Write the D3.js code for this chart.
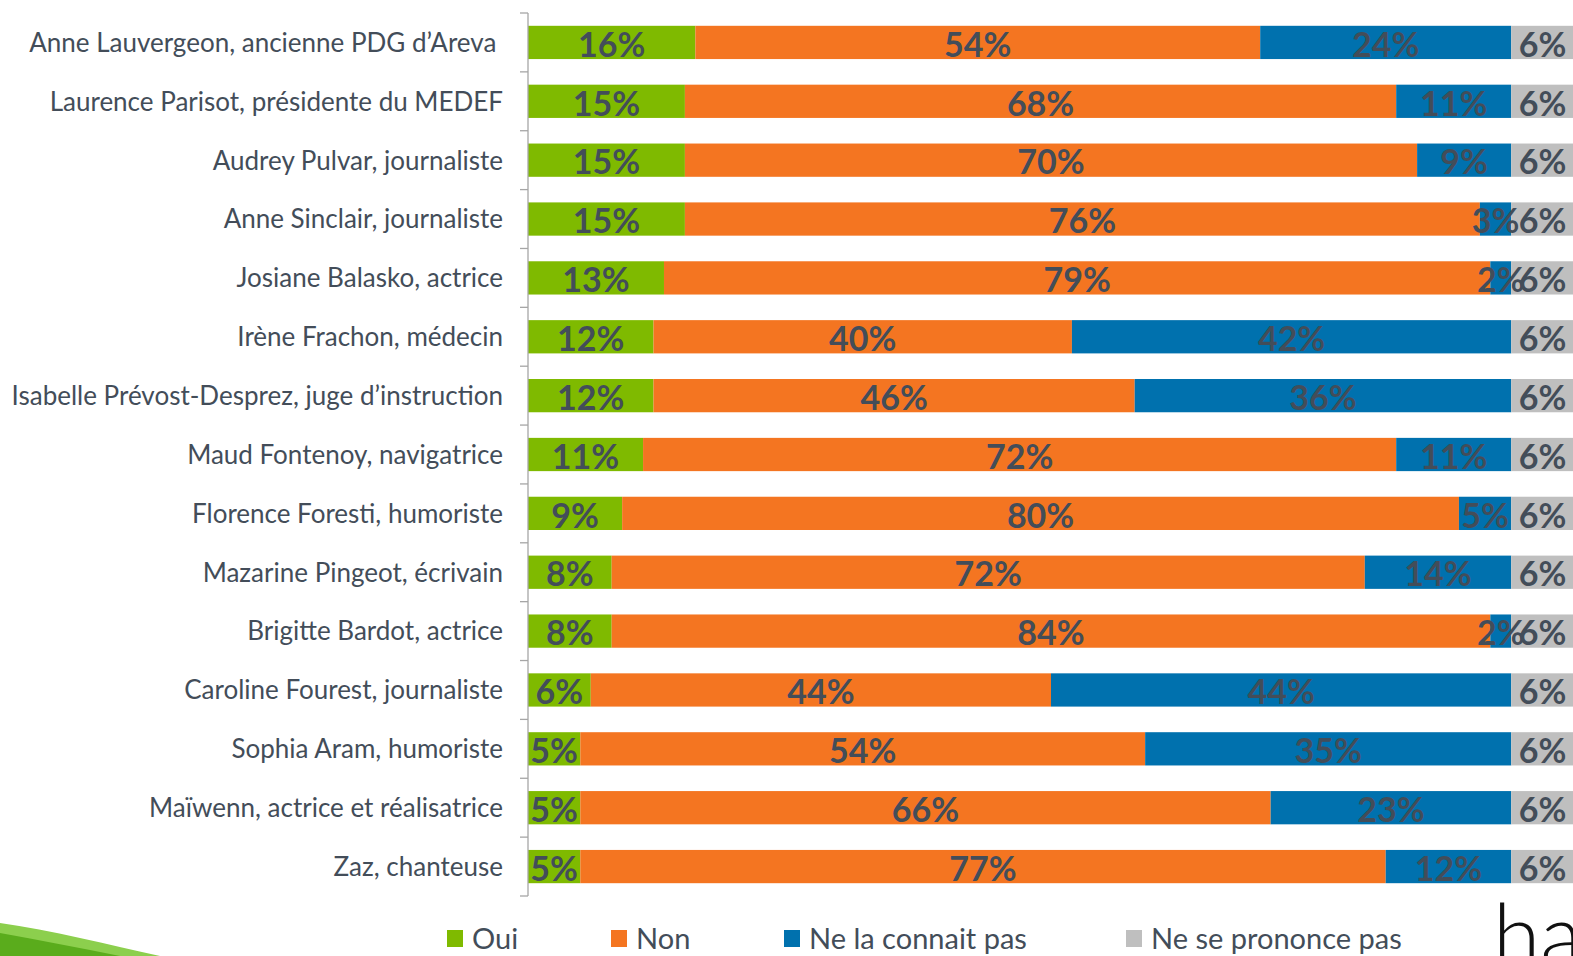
<!DOCTYPE html>
<html><head><meta charset="utf-8">
<script src="https://cdn.jsdelivr.net/npm/d3@7"></script>
<style>
html,body{margin:0;padding:0;background:#fff;}
svg{display:block;}
</style></head>
<body>
<svg id="chart" width="1573" height="956"></svg>
<script>
const categories = [
  "Anne Lauvergeon, ancienne PDG d\u2019Areva\u00a0",
  "Laurence Parisot, présidente du MEDEF",
  "Audrey Pulvar, journaliste",
  "Anne Sinclair, journaliste",
  "Josiane Balasko, actrice",
  "Irène Frachon, médecin",
  "Isabelle Prévost-Desprez, juge d\u2019instruction",
  "Maud Fontenoy, navigatrice",
  "Florence Foresti, humoriste",
  "Mazarine Pingeot, écrivain",
  "Brigitte Bardot, actrice",
  "Caroline Fourest, journaliste",
  "Sophia Aram, humoriste",
  "Maïwenn, actrice et réalisatrice",
  "Zaz, chanteuse"
];
const oui  = [16,15,15,15,13,12,12,11,9,8,8,6,5,5,5];
const non  = [54,68,70,76,79,40,46,72,80,72,84,44,54,66,77];
const nlcp = [24,11,9,3,2,42,36,11,5,14,2,44,35,23,12];
const nsp  = [6,6,6,6,6,6,6,6,6,6,6,6,6,6,6];
const seriesNames = ["Oui","Non","Ne la connait pas","Ne se prononce pas"];
const seriesValues = [oui, non, nlcp, nsp];
const colors = ["#7fba00","#f47521","#0071ae","#bfbfbf"];

const svg = d3.select("#chart");
const textColor = "#434d59";
const mLeft = 528, mRight = 1574, mTop = 13, mBottom = 896;

const x = d3.scaleLinear().domain([0,100]).range([mLeft,mRight]);
const y = d3.scaleBand().domain(categories).range([mTop,mBottom]).paddingInner(0).paddingOuter(0);
const barH = y.step()*0.565;

const rows = categories.map((c,i)=>{
  const r = {name:c};
  seriesNames.forEach((s,j)=>r[s]=seriesValues[j][i]);
  return r;
});
const stack = d3.stack().keys(seriesNames)(rows);

// decorative swoosh bottom-left
svg.append("path")
  .attr("d","M0,923 C50,930 110,945 160,956 L0,956 Z")
  .attr("fill","#8ccf4d");
svg.append("path")
  .attr("d","M0,933 C40,940 80,948 120,956 L0,956 Z")
  .attr("fill","#5aac1c");

const g = svg.append("g");
stack.forEach((layer,j)=>{
  g.append("g").attr("fill",colors[j])
    .selectAll("rect").data(layer).join("rect")
    .attr("x",d=>x(d[0]))
    .attr("y",d=>y(d.data.name)+(y.step()-barH)/2)
    .attr("width",d=>x(d[1])-x(d[0]))
    .attr("height",barH);
});
stack.forEach((layer,j)=>{
  g.append("g")
    .selectAll("text").data(layer).join("text")
    .attr("x",d=>(x(d[0])+x(d[1]))/2)
    .attr("y",d=>y(d.data.name)+y.step()/2+2)
    .attr("dy","0.36em")
    .attr("text-anchor","middle")
    .attr("fill",textColor)
    .style("font-family","Lato, sans-serif")
    .style("font-weight","700")
    .style("font-size","34px")
    .text(d=>(d[1]-d[0])+"%");
});

const axis = d3.axisLeft(y).tickSize(0).tickPadding(25);
const ax = svg.append("g").attr("transform",`translate(${mLeft},0)`).call(axis);
ax.select(".domain").remove();
ax.selectAll("text")
  .attr("fill",textColor)
  .attr("dy","0.36em")
  .style("font-family","Lato, sans-serif")
  .style("font-size","26px");
ax.append("line").attr("x1",0).attr("x2",0).attr("y1",mTop).attr("y2",mBottom)
  .attr("stroke","#a6a6a6").attr("stroke-width",1.3);
const bounds = categories.map(c=>y(c)).concat([mBottom]);
ax.selectAll("line.tk").data(bounds).join("line").attr("class","tk")
  .attr("x1",-8).attr("x2",0).attr("y1",d=>d).attr("y2",d=>d)
  .attr("stroke","#a6a6a6").attr("stroke-width",1.3);

const legendX = [447, 611, 784, 1126];
const lg = svg.append("g");
seriesNames.forEach((s,j)=>{
  lg.append("rect").attr("x",legendX[j]).attr("y",930).attr("width",16).attr("height",17).attr("fill",colors[j]);
  lg.append("text").attr("x",legendX[j]+25).attr("y",949)
    .attr("fill",textColor)
    .style("font-family","Lato, sans-serif").style("font-size","29px")
    .text(s);
});

svg.append("text").attr("x",1493).attr("y",966)
  .attr("fill","#111")
  .style("font-family","Lato, sans-serif").style("font-weight","300").style("font-size","86px")
  .text("ha");
</script>
</body></html>
